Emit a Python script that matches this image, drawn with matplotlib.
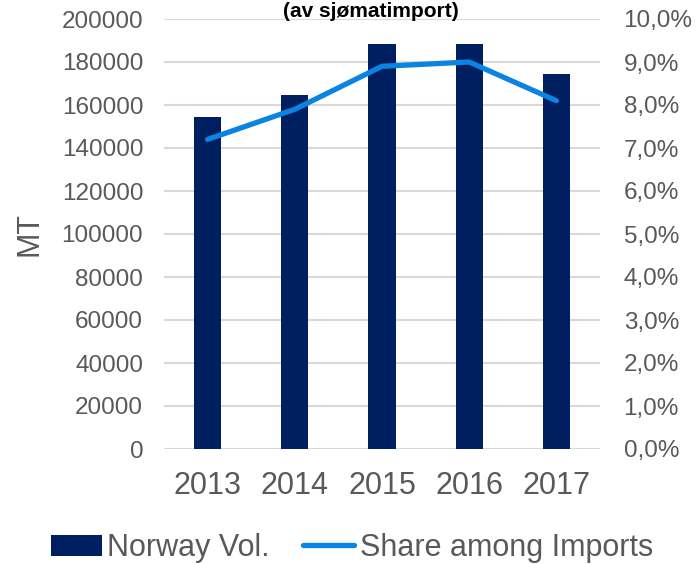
import matplotlib
matplotlib.use("Agg")
import matplotlib.pyplot as plt
from matplotlib.ticker import FuncFormatter, MultipleLocator

years = ["2013", "2014", "2015", "2016", "2017"]
norway_vol = [154500, 164500, 188500, 188500, 174500]
share_pct = [7.2, 7.9, 8.9, 9.0, 8.1]

bar_color = "#001F60"
line_color = "#0A84E0"
text_color = "#595959"
grid_color = "#D9D9D9"

plt.rcParams['font.family'] = ['Liberation Sans', 'DejaVu Sans']

fig = plt.figure(figsize=(6.96, 5.64), dpi=100)
ax = fig.add_axes([164/696, 1 - 449/564, (600-164)/696, (449-19)/564])
ax2 = ax.twinx()

x = list(range(len(years)))
ax.bar(x, norway_vol, width=0.31, color=bar_color, label="Norway Vol.", zorder=2)
ax2.plot(x, share_pct, color=line_color, lw=3.8, solid_capstyle='round',
         solid_joinstyle='round', label="Share among Imports", zorder=3)

ax.set_xlim(-0.5, len(years) - 0.5)
ax.set_ylim(0, 200000)
ax2.set_ylim(0, 10)
ax.yaxis.set_major_locator(MultipleLocator(20000))
ax2.yaxis.set_major_locator(MultipleLocator(1))
ax2.yaxis.set_major_formatter(FuncFormatter(lambda v, p: f"{v:.1f}".replace(".", ",") + "%"))

ax.set_xticks(x)
ax.set_xticklabels(years)

ax.grid(axis='y', color=grid_color, lw=1.5, zorder=0)
ax.set_axisbelow(True)
for a in (ax, ax2):
    for s in a.spines.values():
        s.set_visible(False)
ax.tick_params(axis='y', length=0, labelsize=17.5, labelcolor=text_color, pad=15)
ax2.tick_params(axis='y', length=0, labelsize=17.5, labelcolor=text_color, pad=17)
ax.tick_params(axis='x', length=0, labelsize=22, labelcolor=text_color, pad=16)
ax2.set_zorder(ax.get_zorder() + 1)

fig.text(30/696, 1 - 233.5/564, "MT", rotation=90, ha='center', va='center',
         fontsize=22, color=text_color)

fig.text(371/696, 1 - 17/564, "(av sjømatimport)", ha='center', va='baseline',
         fontsize=15, fontweight='bold', color='black')

h1, l1 = ax.get_legend_handles_labels()
h2, l2 = ax2.get_legend_handles_labels()
fig.legend(h1 + h2, l1 + l2, loc='center', bbox_to_anchor=(352/696, 1 - 548/564),
           ncol=2, frameon=False, fontsize=22, labelcolor=text_color,
           handlelength=1.67, handletextpad=0.17, columnspacing=1.1, borderpad=0)

fig.savefig("out.png", dpi=100)
